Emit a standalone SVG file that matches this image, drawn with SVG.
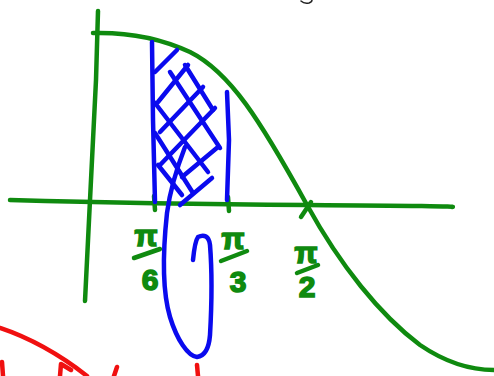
<svg xmlns="http://www.w3.org/2000/svg" width="494" height="376" viewBox="0 0 494 376">
<style>
.g{fill:none;stroke:#0f8a0f;stroke-width:4.5;stroke-linecap:round;stroke-linejoin:round}
.b{fill:none;stroke:#0a0aee;stroke-width:4.5;stroke-linecap:round;stroke-linejoin:round}
.r{fill:none;stroke:#f01010;stroke-width:4.5;stroke-linecap:round;stroke-linejoin:round}
.t{fill:#0f8a0f;stroke:#0f8a0f;stroke-width:1.6;font-family:"Liberation Sans",Arial,sans-serif;font-weight:bold;font-size:30px;text-anchor:middle}
</style>
<rect width="494" height="376" fill="#fff"/>
<g id="axes">
<path class="g" d="M98,11 L96,80 L90,200 L85,301"/>
<path class="g" d="M10,200 Q150,204 307,205 T452,207"/>
</g>
<g id="curve">
<path class="g" d="M93,33 C130,32 160,38 190,52 C230,72 260,120 307,205 C340,265 380,315 420,345 C445,362 470,370 494,370"/>
</g>
<g id="ticks">
<path class="g" d="M154,196 L155,210"/>
<path class="g" d="M228,197 L229,211"/>
<path class="g" d="M301,217 L311,202"/>
</g>
<g id="labels">
<text class="t" x="146" y="246">π</text>
<path class="g" d="M134,258 L160,249"/>
<text class="t" x="150" y="290">6</text>
<text class="t" x="233" y="249">π</text>
<path class="g" d="M221,261 L247,251"/>
<text class="t" x="238" y="292">3</text>
<text class="t" x="306" y="263">π</text>
<path class="g" d="M297,273 L318,265"/>
<text class="t" x="307" y="297">2</text>
</g>
<g id="region">
<path class="b" d="M152,42 L153,120 L155,202"/>
<path class="b" d="M227,92 L229,140 L227,200"/>
<path class="b" d="M170,72 L220,148"/>
<path class="b" d="M185,65 L213,110"/>
<path class="b" d="M155,103 L208,172"/>
<path class="b" d="M155,133 L193,193"/>
<path class="b" d="M158,165 L182,195"/>
<path class="b" d="M155,72 L177,50"/>
<path class="b" d="M158,102 L188,65"/>
<path class="b" d="M160,132 L203,87"/>
<path class="b" d="M160,165 L215,108"/>
<path class="b" d="M182,177 L218,147"/>
<path class="b" d="M180,205 L212,178"/>
<path class="b" d="M185,147 C178,165 170,190 167,213 C163,250 162,290 170,317 C177,340 188,356 197,357 C205,356 209,348 210,335 C212,300 212,270 210,245 C209,236 204,234 198,237 C195,241 194,250 193,260"/>
</g>
<g id="red">
<path class="r" d="M0,328 C30,338 60,355 87,376"/>
<path class="r" d="M2,362 L3,376"/>
<path class="r" d="M60,376 L61,364 L71,370"/>
<path class="r" d="M117,367 L114,376"/>
<path class="r" d="M197,365 L198,376"/>
</g>
<g id="mark">
<path d="M301,1 Q304,4 309,3 Q312,2 312,0" fill="none" stroke="#222" stroke-width="1.5" stroke-linecap="round"/>
</g>
</svg>
